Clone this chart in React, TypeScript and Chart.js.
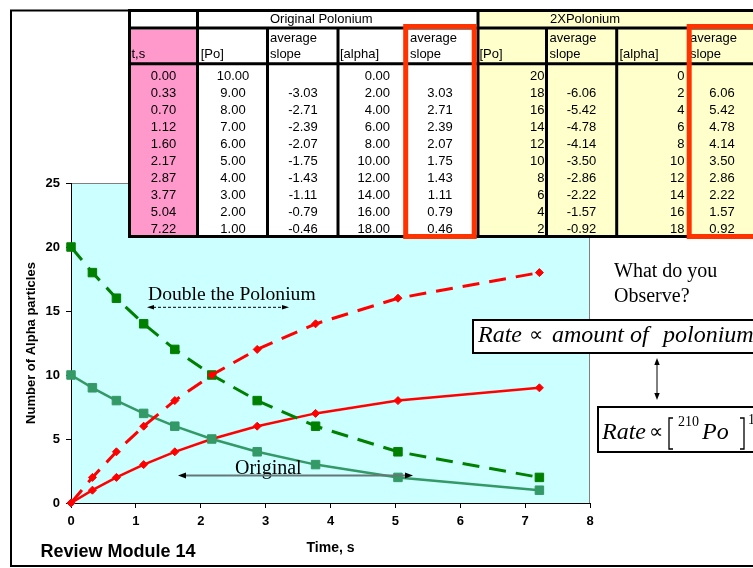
import React, { useEffect, useRef } from "react";
import { Chart, registerables } from "chart.js";

Chart.register(...registerables);

// ---------- data ----------
const time = [0.0, 0.33, 0.7, 1.12, 1.6, 2.17, 2.87, 3.77, 5.04, 7.22];
const poOriginal = [10, 9, 8, 7, 6, 5, 4, 3, 2, 1];
const slopeOriginal = [null, -3.03, -2.71, -2.39, -2.07, -1.75, -1.43, -1.11, -0.79, -0.46];
const alphaOriginalTable = [0, 2, 4, 6, 8, 10, 12, 14, 16, 18];
const rateOriginal = [null, 3.03, 2.71, 2.39, 2.07, 1.75, 1.43, 1.11, 0.79, 0.46];
const alphaOriginalPlot = [0, 1, 2, 3, 4, 5, 6, 7, 8, 9];
const poDouble = [20, 18, 16, 14, 12, 10, 8, 6, 4, 2];
const slopeDouble = [null, -6.06, -5.42, -4.78, -4.14, -3.5, -2.86, -2.22, -1.57, -0.92];
const alphaDouble = [0, 2, 4, 6, 8, 10, 12, 14, 16, 18];
const rateDouble = [null, 6.06, 5.42, 4.78, 4.14, 3.5, 2.86, 2.22, 1.57, 0.92];

const xTitle = "Time, s";
const yTitle = "Number of Alpha particles";

const SANS = '"Liberation Sans", Arial, sans-serif';
const SERIF = '"Liberation Serif", "Times New Roman", serif';

const pts = (ys: number[]) => time.map((t, i) => ({ x: t, y: ys[i] }));

const bgPlugin = {
  id: "plotBg",
  beforeDraw(chart: any) {
    const { ctx, chartArea: a } = chart;
    ctx.save();
    ctx.fillStyle = "#CCFFFF";
    ctx.fillRect(a.left, a.top, a.right - a.left, a.bottom - a.top);
    ctx.strokeStyle = "#808080";
    ctx.lineWidth = 1;
    ctx.beginPath();
    ctx.moveTo(a.left, a.top + 0.5);
    ctx.lineTo(a.right - 0.5, a.top + 0.5);
    ctx.lineTo(a.right - 0.5, a.bottom);
    ctx.stroke();
    ctx.restore();
  },
};

const fmt2 = (v: number | null) => (v === null ? "" : v.toFixed(2));

export default function App() {
  const ref = useRef<HTMLCanvasElement>(null);

  useEffect(() => {
    const tickFont = { family: SANS, size: 13, weight: "bold" as const };
    const chart = new Chart(ref.current as HTMLCanvasElement, {
      type: "scatter",
      data: {
        datasets: [
          {
            label: "2X alpha",
            data: pts(alphaDouble),
            showLine: true,
            borderColor: "#FF0000",
            backgroundColor: "#FF0000",
            borderWidth: 3,
            borderDash: [17, 10],
            pointStyle: "rectRot",
            pointRadius: 4,
            pointBorderWidth: 1,
            pointBorderColor: "#FF0000",
            pointBackgroundColor: "#FF0000",
            clip: false,
          },
          {
            label: "2X Po",
            data: pts(poDouble),
            showLine: true,
            borderColor: "#008000",
            backgroundColor: "#008000",
            borderWidth: 3,
            borderDash: [17, 10],
            pointStyle: "rect",
            pointRadius: 6,
            pointBorderWidth: 1,
            pointBorderColor: "#008000",
            pointBackgroundColor: "#008000",
            clip: false,
          },
          {
            label: "Original Po",
            data: pts(poOriginal),
            showLine: true,
            borderColor: "#339966",
            backgroundColor: "#339966",
            borderWidth: 2.5,
            pointStyle: "rect",
            pointRadius: 6,
            pointBorderWidth: 1,
            pointBorderColor: "#339966",
            pointBackgroundColor: "#339966",
            clip: false,
          },
          {
            label: "Original alpha",
            data: pts(alphaOriginalPlot),
            showLine: true,
            borderColor: "#FF0000",
            backgroundColor: "#FF0000",
            borderWidth: 2.5,
            pointStyle: "rectRot",
            pointRadius: 4,
            pointBorderWidth: 1,
            pointBorderColor: "#FF0000",
            pointBackgroundColor: "#FF0000",
            clip: false,
          },
        ] as any,
      },
      options: {
        animation: false,
        responsive: false,
        maintainAspectRatio: false,
        layout: { padding: { left: 0, top: 183, right: 163, bottom: 0 } },
        plugins: { legend: { display: false }, tooltip: { enabled: false } },
        elements: { line: { tension: 0 } },
        scales: {
          x: {
            type: "linear",
            min: 0,
            max: 8,
            ticks: { stepSize: 1, color: "#000", font: tickFont, padding: 6 },
            grid: { drawOnChartArea: false, drawTicks: true, tickLength: 5, color: "#000" },
            border: { color: "#000", width: 1 },
            title: {
              display: true,
              text: xTitle,
              color: "#000",
              font: { family: SANS, size: 14, weight: "bold" },
              padding: { top: 0, bottom: 11.6 },
            },
            afterFit: (s: any) => {
              s.height = 65;
            },
          },
          y: {
            type: "linear",
            min: 0,
            max: 25,
            ticks: { stepSize: 5, color: "#000", font: tickFont, padding: 6 },
            grid: { drawOnChartArea: false, drawTicks: true, tickLength: 5, color: "#000" },
            border: { color: "#000", width: 1 },
            title: {
              display: true,
              text: yTitle,
              color: "#000",
              font: { family: SANS, size: 13, weight: "bold" },
              padding: { top: 23.5, bottom: 0 },
            },
            afterFit: (s: any) => {
              s.width = 71;
            },
          },
        },
      } as any,
      plugins: [bgPlugin],
    });
    return () => chart.destroy();
  }, []);

  // table geometry
  const rowY = (i: number) => 79.6 + 17 * i;
  const T = 10.5; // top border center
  const R1 = 28; // row1 line
  const R2 = 63.75; // row2 line
  const B = 236.5; // bottom line
  const fullV = [129.5, 197.5, 478];
  const partV = [267.5, 338, 405.5, 546.5, 616.7, 689];
  const hdrTxt = { fontFamily: SANS, fontSize: 13, fill: "#000" } as const;

  const cellText = (x: number, y: number, s: string, anchor: "middle" | "end", key: string) => (
    <text key={key} x={x} y={y} textAnchor={anchor} {...hdrTxt}>
      {s}
    </text>
  );

  const twoLine = (x: number, key: string) => (
    <g key={key}>
      <text x={x} y={42} {...hdrTxt}>average</text>
      <text x={x} y={58} {...hdrTxt}>slope</text>
    </g>
  );

  return (
    <div
      style={{
        position: "fixed",
        left: 0,
        top: 0,
        width: 753,
        height: 568,
        overflow: "hidden",
        background: "#fff",
      }}
    >
      <canvas
        ref={ref}
        width={753}
        height={568}
        style={{ position: "absolute", left: 0, top: 0, width: 753, height: 568 }}
      />
      <svg
        width={753}
        height={568}
        style={{ position: "absolute", left: 0, top: 0 }}
        xmlns="http://www.w3.org/2000/svg"
      >
        {/* slide frame */}
        <rect x={11} y={10.5} width={800} height={555.5} fill="none" stroke="#000" strokeWidth={2} />

        {/* ---------- table ---------- */}
        <rect x={128} y={9} width={351} height={229} fill="#FFFFFF" />
        <rect x={479} y={9} width={280} height={229} fill="#FFFFCC" />
        <rect x={131} y={29.5} width={65} height={206} fill="#FF99CC" />

        {fullV.map((x) => (
          <line key={"fv" + x} x1={x} y1={9} x2={x} y2={238} stroke="#000" strokeWidth={3} />
        ))}
        {partV.map((x) => (
          <line key={"pv" + x} x1={x} y1={R1} x2={x} y2={238} stroke="#000" strokeWidth={3} />
        ))}
        {[T, R1, R2, B].map((y) => (
          <line key={"h" + y} x1={128} y1={y} x2={760} y2={y} stroke="#000" strokeWidth={3} />
        ))}

        {/* header row 0 */}
        <text x={270} y={23} {...hdrTxt}>Original Polonium</text>
        <text x={550} y={23} {...hdrTxt}>2XPolonium</text>

        {/* header row 1 */}
        <text x={131.5} y={58} {...hdrTxt}>t,s</text>
        <text x={200.7} y={58} {...hdrTxt}>[Po]</text>
        {twoLine(270, "h2")}
        <text x={340} y={58} {...hdrTxt}>[alpha]</text>
        {twoLine(410, "h4")}
        <text x={479.5} y={58} {...hdrTxt}>[Po]</text>
        {twoLine(549.5, "h6")}
        <text x={619.5} y={58} {...hdrTxt}>[alpha]</text>
        {twoLine(690, "h8")}

        {/* data rows */}
        {time.map((t, i) => (
          <g key={"r" + i}>
            {cellText(163.5, rowY(i), fmt2(t), "middle", "c0")}
            {cellText(233, rowY(i), fmt2(poOriginal[i]), "middle", "c1")}
            {cellText(303, rowY(i), fmt2(slopeOriginal[i]), "middle", "c2")}
            {cellText(390, rowY(i), fmt2(alphaOriginalTable[i]), "end", "c3")}
            {cellText(440, rowY(i), fmt2(rateOriginal[i]), "middle", "c4")}
            {cellText(544.5, rowY(i), String(poDouble[i]), "end", "c5")}
            {cellText(581.5, rowY(i), fmt2(slopeDouble[i]), "middle", "c6")}
            {cellText(684.5, rowY(i), String(alphaDouble[i]), "end", "c7")}
            {cellText(722, rowY(i), fmt2(rateDouble[i]), "middle", "c8")}
          </g>
        ))}

        {/* red highlight boxes */}
        <rect x={405.7} y={26.5} width={68.5} height={210} fill="none" stroke="#FF3300" strokeWidth={5} />
        <rect x={689.2} y={26.5} width={100} height={210} fill="none" stroke="#FF3300" strokeWidth={5} />

        {/* ---------- annotations ---------- */}
        <text x={148} y={300} fontFamily={SERIF} fontSize={19.6} fill="#000">Double the Polonium</text>
        <line x1={153} y1={307.3} x2={283} y2={307.3} stroke="#000" strokeWidth={1} strokeDasharray="3 2" />
        <polygon points="147,307.3 154,305 154,309.6" fill="#000" />
        <polygon points="289,307.3 282,305 282,309.6" fill="#000" />

        <text x={235} y={474} fontFamily={SERIF} fontSize={20} fill="#000">Original</text>
        <line x1={184} y1={475.5} x2={407} y2={475.5} stroke="#667777" strokeWidth={2} />
        <polygon points="178,475.5 186,472.5 186,478.5" fill="#000" />
        <polygon points="413,475.5 405,472.5 405,478.5" fill="#000" />

        <text x={614} y={277} fontFamily={SERIF} fontSize={20} fill="#000">What do you</text>
        <text x={614} y={302} fontFamily={SERIF} fontSize={20} fill="#000">Observe?</text>

        {/* box 1 */}
        <rect x={473} y={320} width={300} height={33} fill="#fff" stroke="#000" strokeWidth={2} />
        <text x={478} y={342} fontFamily={SERIF} fontSize={24} fontStyle="italic" fill="#000">Rate</text>
        <text x={529} y={341} fontFamily={SERIF} fontSize={20} fill="#000">∝</text>
        <text x={552} y={342} fontFamily={SERIF} fontSize={24} fontStyle="italic" fill="#000">amount</text>
        <text x={630} y={342} fontFamily={SERIF} fontSize={24} fontStyle="italic" fill="#000">of</text>
        <text x={663} y={342} fontFamily={SERIF} fontSize={24} fontStyle="italic" fill="#000">polonium</text>

        {/* vertical double arrow */}
        <line x1={657} y1={364} x2={657} y2={394} stroke="#000" strokeWidth={1} />
        <polygon points="657,358 654.3,365 659.7,365" fill="#000" />
        <polygon points="657,400 654.3,393 659.7,393" fill="#000" />

        {/* box 2 */}
        <rect x={598} y={407} width={200} height={45} fill="#fff" stroke="#000" strokeWidth={2} />
        <text x={602} y={439} fontFamily={SERIF} fontSize={24} fontStyle="italic" fill="#000">Rate</text>
        <text x={649} y={438} fontFamily={SERIF} fontSize={20} fill="#000">∝</text>
        <path d="M673,418 H669 V449 H673" fill="none" stroke="#000" strokeWidth={1.3} />
        <text x={678} y={426} fontFamily={SERIF} fontSize={14} fill="#000">210</text>
        <text x={702} y={439} fontFamily={SERIF} fontSize={24} fontStyle="italic" fill="#000">Po</text>
        <path d="M740,418 H744 V449 H740" fill="none" stroke="#000" strokeWidth={1.3} />
        <text x={748} y={424} fontFamily={SERIF} fontSize={14} fill="#000">1</text>

        {/* footer */}
        <text x={40.5} y={557} fontFamily={SANS} fontSize={18} fontWeight="bold" fill="#000">Review Module 14</text>
      </svg>
    </div>
  );
}
